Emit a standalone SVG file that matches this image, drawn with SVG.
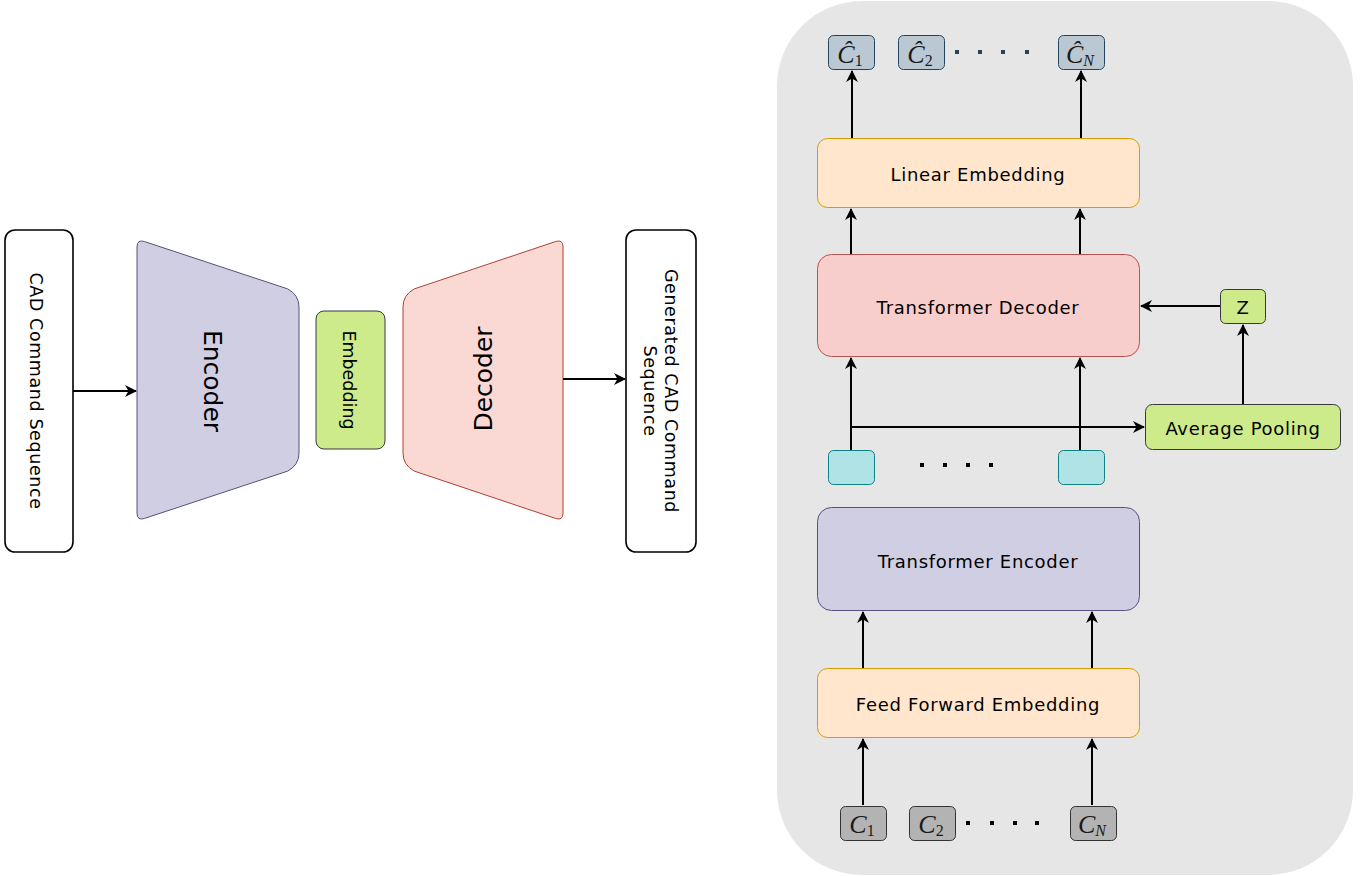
<svg xmlns="http://www.w3.org/2000/svg" width="1365" height="876" viewBox="0 0 1365 876">
<defs>
<marker id="arr" markerWidth="13" markerHeight="12" refX="11" refY="6" orient="auto" markerUnits="userSpaceOnUse">
<path d="M0,0 L12,6 L0,12 L3.5,6 Z" fill="#000"/>
</marker>
<style>
.lbl{font-family:"Comic Sans MS","DejaVu Sans","Liberation Sans",sans-serif;fill:#000;text-anchor:middle;dominant-baseline:central}
.h{font-size:18px;letter-spacing:0.7px}
.v{font-size:17.5px;letter-spacing:0.6px}
.math{font-family:"Liberation Serif","DejaVu Serif",serif;font-style:italic;fill:#1a1a1a;text-anchor:middle;font-size:26px}
.sub{font-style:normal;font-size:16px}
.subi{font-style:italic;font-size:16px}
.conn{stroke:#000;stroke-width:2;fill:none;marker-end:url(#arr)}
.white{fill:#fff;stroke:#000;stroke-width:1.6}
.orange{fill:#ffe6cc;stroke:#d79b00;stroke-width:1}
.red{fill:#f8cecc;stroke:#b85450;stroke-width:1}
.purple{fill:#d0cee2;stroke:#56517e;stroke-width:1}
.green{fill:#cdeb8b;stroke:#36393d;stroke-width:1}
.cyan{fill:#b0e3e6;stroke:#0e8088;stroke-width:1}
.blue{fill:#bac8d3;stroke:#23445d;stroke-width:1}
.gray{fill:#b3b3b3;stroke:#333;stroke-width:1}
</style>
</defs>
<rect width="1365" height="876" fill="#fff"/>
<rect id="panel" x="777" y="1" width="576" height="874" rx="85" ry="85" fill="#e6e6e6"/>

<g id="cad-input">
<rect class="white" x="5" y="230" width="68" height="322" rx="10"/>
<text class="lbl v" transform="translate(36,391) rotate(90)">CAD Command Sequence</text>
</g>
<g id="encoder">
<path fill="#d0cee2" stroke="#56517e" stroke-width="1" d="M144.6,241.6 L287.7,288.9 Q299,295 299,307 L299,453 Q299,465 287.7,471.1 L144.6,518.4 Q137,521 137,513 L137,247 Q137,239 144.6,241.6 Z"/>
<text class="lbl" font-size="25" transform="translate(212,381) rotate(90)">Encoder</text>
</g>
<g id="embedding">
<rect class="green" x="316" y="311" width="69" height="138" rx="8"/>
<text class="lbl" font-size="17.5" transform="translate(349,380) rotate(90)">Embedding</text>
</g>
<g id="decoder">
<path fill="#fad9d5" stroke="#ae4132" stroke-width="1" d="M555.4,241.6 L414.3,288.9 Q403,295 403,307 L403,453 Q403,465 414.3,471.1 L555.4,518.4 Q563,521 563,513 L563,247 Q563,239 555.4,241.6 Z"/>
<text class="lbl" font-size="25" transform="translate(483,379) rotate(-90)">Decoder</text>
</g>
<g id="generated">
<rect class="white" x="626" y="230" width="70" height="322" rx="10"/>
<text class="lbl v" transform="translate(660,391) rotate(90)"><tspan x="0" dy="-10.5">Generated CAD Command</tspan><tspan x="0" dy="21">Sequence</tspan></text>
</g>

<g id="out-c1"><rect class="blue" x="828.5" y="35.5" width="46" height="34" rx="5"/><text class="math" x="850" y="63">Ĉ<tspan class="sub" dy="3">1</tspan></text></g>
<g id="out-c2"><rect class="blue" x="898.5" y="35.5" width="46" height="34" rx="5"/><text class="math" x="920" y="63">Ĉ<tspan class="sub" dy="3">2</tspan></text></g>
<g id="out-cn"><rect class="blue" x="1058.5" y="35.5" width="46" height="34" rx="5"/><text class="math" x="1080" y="63">Ĉ<tspan class="subi" dy="3">N</tspan></text></g>
<g id="out-dots" fill="#23445d"><rect x="955" y="50" width="4" height="4"/><rect x="978" y="50" width="4" height="4"/><rect x="1001" y="50" width="4" height="4"/><rect x="1025" y="50" width="4" height="4"/></g>

<g id="linear-embedding"><rect class="orange" x="817.5" y="138.5" width="322" height="69" rx="10"/><text class="lbl h" x="978" y="174">Linear Embedding</text></g>
<g id="transformer-decoder"><rect class="red" x="817.5" y="254.5" width="322" height="102" rx="14"/><text class="lbl h" x="978" y="307">Transformer Decoder</text></g>
<g id="z"><rect class="green" x="1220.5" y="289.5" width="45" height="34" rx="5"/><text class="lbl h" x="1243" y="307">Z</text></g>
<g id="average-pooling"><rect class="green" x="1145.5" y="404.5" width="195" height="45" rx="7"/><text class="lbl h" x="1243" y="428">Average Pooling</text></g>
<g id="latent-1"><rect class="cyan" x="828.5" y="450.5" width="46" height="34" rx="5"/></g>
<g id="latent-n"><rect class="cyan" x="1058.5" y="450.5" width="46" height="34" rx="5"/></g>
<g id="latent-dots" fill="#000"><rect x="920" y="463" width="4" height="4"/><rect x="943" y="463" width="4" height="4"/><rect x="966" y="463" width="4" height="4"/><rect x="989" y="463" width="4" height="4"/></g>
<g id="transformer-encoder"><rect class="purple" x="817.5" y="507.5" width="322" height="103" rx="14"/><text class="lbl h" x="978" y="561">Transformer Encoder</text></g>
<g id="feed-forward-embedding"><rect class="orange" x="817.5" y="668.5" width="322" height="69" rx="10"/><text class="lbl h" x="978" y="704">Feed Forward Embedding</text></g>

<g id="in-c1"><rect class="gray" x="840.5" y="806.5" width="46" height="34" rx="5"/><text class="math" x="862" y="833">C<tspan class="sub" dy="3">1</tspan></text></g>
<g id="in-c2"><rect class="gray" x="909.5" y="806.5" width="46" height="34" rx="5"/><text class="math" x="931" y="833">C<tspan class="sub" dy="3">2</tspan></text></g>
<g id="in-cn"><rect class="gray" x="1070.5" y="806.5" width="46" height="34" rx="5"/><text class="math" x="1092" y="833">C<tspan class="subi" dy="3">N</tspan></text></g>
<g id="in-dots" fill="#000"><rect x="966" y="821" width="4" height="4"/><rect x="990" y="821" width="4" height="4"/><rect x="1013" y="821" width="4" height="4"/><rect x="1035" y="821" width="4" height="4"/></g>

<g id="connectors">
<path class="conn" d="M73,391 L136,391"/>
<path class="conn" d="M563,379 L625,379"/>
<path class="conn" d="M852,138 L852,71"/>
<path class="conn" d="M1081,138 L1081,71"/>
<path class="conn" d="M851,254 L851,209"/>
<path class="conn" d="M1080,254 L1080,209"/>
<path class="conn" d="M1220,306 L1141,306"/>
<path class="conn" d="M1243,404 L1243,325"/>
<path class="conn" d="M851,450 L851,358"/>
<path class="conn" d="M1080,450 L1080,358"/>
<path class="conn" d="M851,427 L1144,427"/>
<path class="conn" d="M863,668 L863,612"/>
<path class="conn" d="M1092,668 L1092,612"/>
<path class="conn" d="M863,805 L863,739"/>
<path class="conn" d="M1092,805 L1092,739"/>
</g>
</svg>
